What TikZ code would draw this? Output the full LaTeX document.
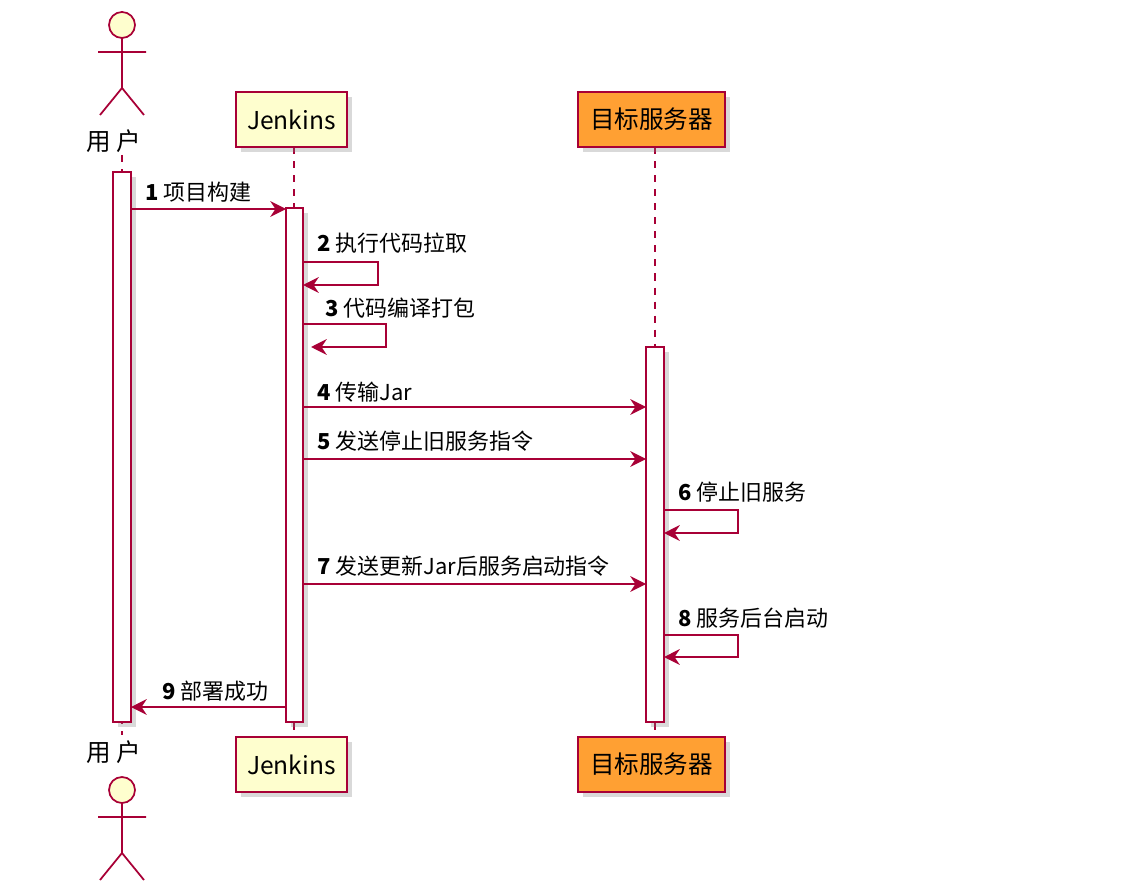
\documentclass[tikz,border=0pt]{standalone}
\usepackage{fontspec}
\setmainfont{Noto Sans CJK SC}
\usetikzlibrary{arrows.meta,shadows}
\definecolor{pr}{HTML}{A80036}
\definecolor{py}{HTML}{FEFECE}
\definecolor{po}{HTML}{FFA033}
\begin{document}
\begin{tikzpicture}[x=0.02cm,y=-0.02cm,
 part/.style={draw=pr,line width=0.8pt,minimum width=111*0.02cm,minimum height=55*0.02cm,font=\fontsize{14}{14}\selectfont,drop shadow={shadow xshift=3pt,shadow yshift=-3pt,opacity=0.3}},
 act/.style={draw=pr,fill=white,line width=0.8pt,drop shadow={shadow xshift=3pt,shadow yshift=-3pt,opacity=0.3}},
 life/.style={draw=pr,dash pattern=on 4pt off 4pt,line width=0.6pt},
 msg/.style={draw=pr,line width=0.8pt,-{Stealth[length=9pt,width=9pt,inset=3pt]}},
 lbl/.style={anchor=west,font=\fontsize{12.5}{12.5}\selectfont,inner sep=0},
 stick/.style={draw=pr,line width=1pt}]
\useasboundingbox (0,0) rectangle (1141,891);
% lifelines
\draw[life] (122,155) -- (122,735);
\draw[life] (294,147) -- (294,737);
\draw[life] (655,147) -- (655,737);
% actors
\foreach \y/\n in {0/ta,765/ba}{
 \draw[stick,fill=py] (122,25+\y) circle (13);
 \draw[stick] (122,38+\y) -- (122,88+\y) (98,52+\y) -- (146,52+\y) (100,115+\y) -- (122,88+\y) -- (144,115+\y);
}
\node[font=\fontsize{14}{14}\selectfont] (ul1) at (114,141) {用 户};
\node[font=\fontsize{14}{14}\selectfont] (ul2) at (114,752) {用 户};
% participants
\node[part,fill=py] (j1) at (291.5,119.5) {Jenkins};
\node[part,fill=py] (j2) at (291.5,764.5) {Jenkins};
\node[part,fill=po,minimum width=147*0.02cm] (s1) at (651.5,119.5) {目标服务器};
\node[part,fill=po,minimum width=147*0.02cm] (s2) at (651.5,764.5) {目标服务器};
% activations
\draw[act] (113,172) rectangle (131,722);
\draw[act] (286,208) rectangle (303,722);
\draw[act] (646,347) rectangle (664,722);
% messages
\draw[msg] (131,209) -- (286,209); \node[lbl] (m1) at (145,192) {\textbf{1} 项目构建};
\draw[msg] (303,262) -- (378,262) -- (378,285) -- (303,285); \node[lbl] (m2) at (317,243) {\textbf{2} 执行代码拉取};
\draw[msg] (303,324) -- (386,324) -- (386,347) -- (311,347); \node[lbl] (m3) at (325,308) {\textbf{3} 代码编译打包};
\draw[msg] (303,407) -- (646,407); \node[lbl] (m4) at (317,392) {\textbf{4} 传输Jar};
\draw[msg] (303,459) -- (646,459); \node[lbl] (m5) at (317,441) {\textbf{5} 发送停止旧服务指令};
\draw[msg] (664,510) -- (738,510) -- (738,533) -- (664,533); \node[lbl] (m6) at (678,492) {\textbf{6} 停止旧服务};
\draw[msg] (303,584) -- (646,584); \node[lbl] (m7) at (317,566) {\textbf{7} 发送更新Jar后服务启动指令};
\draw[msg] (664,635) -- (738,635) -- (738,657) -- (664,657); \node[lbl] (m8) at (678,618) {\textbf{8} 服务后台启动};
\draw[msg] (286,707) -- (131,707); \node[lbl] (m9) at (162,691) {\textbf{9} 部署成功};
\end{tikzpicture}
\end{document}
